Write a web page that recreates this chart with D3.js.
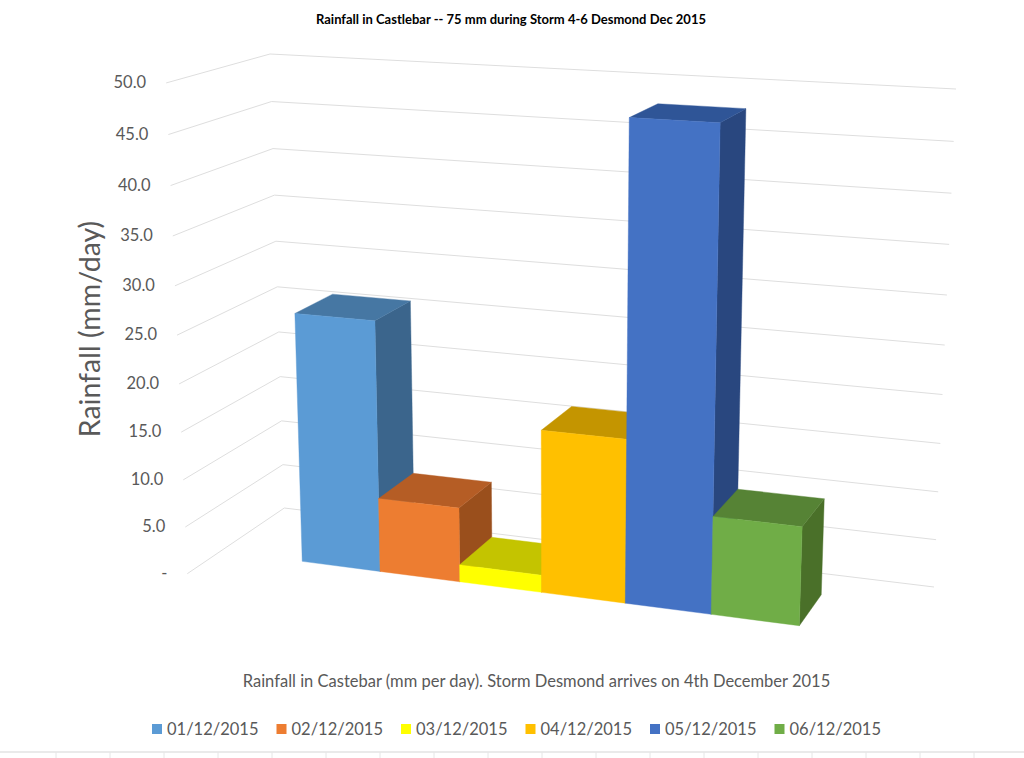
<!DOCTYPE html>
<html><head><meta charset="utf-8">
<script src="https://cdn.jsdelivr.net/npm/d3@7/dist/d3.min.js"></script>
<style>html,body{margin:0;padding:0;background:#fff}svg{display:block}text{font-family:Lato,"Open Sans",sans-serif}</style>
</head><body>
<svg id="c" width="1024" height="758"></svg>
<script>
const title = "Rainfall in Castlebar -- 75 mm during Storm 4-6 Desmond Dec 2015";
const yTitle = "Rainfall (mm/day)";
const xTitle = "Rainfall in Castebar (mm per day). Storm Desmond arrives on 4th December 2015";
const dates = ["01/12/2015","02/12/2015","03/12/2015","04/12/2015","05/12/2015","06/12/2015"];
const rain = [26.3,7.8,1.8,16.8,48.0,10.0];
const ticks = [0,5,10,15,20,25,30,35,40,45,50];
const frontColors = ["#5b9bd5","#ed7d31","#ffff00","#ffc000","#4472c4","#70ad47"];
const topColors = ["#4677a3","#b55d25","#c4c400","#c49500","#2f5597","#568335"];
const sideColors = ["#3b658c","#9a4f1c","#a8a800","#a67f00","#29477f","#4a7029"];

// frame of the 3D box, as seen on the page
const frame = {bb:[284.3,508],bt:[270,54],rb:[934,587],rt:[956,89],fb:[187.3,573.7],ft:[166,83]};
function unitSquare(p00,p10,p11,p01){
  const dx1=p10[0]-p11[0],dx2=p01[0]-p11[0],sx=p00[0]-p10[0]+p11[0]-p01[0];
  const dy1=p10[1]-p11[1],dy2=p01[1]-p11[1],sy=p00[1]-p10[1]+p11[1]-p01[1];
  const den=dx1*dy2-dx2*dy1;
  const g=(sx*dy2-dx2*sy)/den,h=(dx1*sy-sx*dy1)/den;
  return {g,h,ax:p10[0]-p00[0]+g*p10[0],bx:p01[0]-p00[0]+h*p01[0],ay:p10[1]-p00[1]+g*p10[1],by:p01[1]-p00[1]+h*p01[1]};
}
const wall=unitSquare(frame.bb,frame.rb,frame.rt,frame.bt);
const side=unitSquare(frame.bb,frame.fb,frame.ft,frame.bt);
function project(u,v,w){
  const d=1+wall.g*u+wall.h*v+side.g*w;
  return [(frame.bb[0]+wall.ax*u+wall.bx*v+side.ax*w)/d,(frame.bb[1]+wall.ay*u+wall.by*v+side.ay*w)/d];
}
const vScale=d3.scaleLinear().domain([0,50]).range([0,1]);
const uScale=d3.scaleBand().domain(dates).range([0.13,0.86]).padding(0);
const depth={back:0.27,front:0.67};

const svg=d3.select("#c");
const line=d3.line();
// workbook cell lines below the chart
svg.append("line").attr("x1",0).attr("x2",1024).attr("y1",752).attr("y2",752).attr("stroke","#e3e3e3").attr("stroke-width",1.5);
svg.selectAll(".cell").data(d3.range(18)).join("line").attr("class","cell")
  .attr("x1",i=>56+i*54).attr("x2",i=>56+i*54).attr("y1",752).attr("y2",758).attr("stroke","#e6e6e6");

svg.append("text").attr("x",511).attr("y",23.5).attr("text-anchor","middle").attr("font-size",13).attr("font-weight",700).attr("fill","#000").text(title);

svg.selectAll(".grid").data(ticks).join("path").attr("class","grid").attr("fill","none").attr("stroke","#dedede").attr("stroke-width",1)
  .attr("d",t=>line([project(0,vScale(t),1),project(0,vScale(t),0),project(1,vScale(t),0)]));
svg.selectAll(".tick").data(ticks).join("text").attr("class","tick").attr("text-anchor","end")
  .attr("font-size",16.5).attr("fill","#595959")
  .attr("x",t=>project(0,vScale(t),1)[0]-20).attr("y",t=>project(0,vScale(t),1)[1]+5)
  .text(t=>t===0?"-":t.toFixed(1));

const bars=dates.map((d,i)=>({d,i,v:rain[i]}));
const g=svg.selectAll(".bar").data(bars).join("g").attr("class","bar");
function face(sel,cls,colors,pts){
  sel.append("path").attr("class",cls).attr("fill",d=>colors[d.i]).attr("stroke",d=>colors[d.i]).attr("stroke-width",0.4)
    .attr("d",d=>line(pts(d))+"Z");
}
const u0=d=>uScale(d.d),u1=d=>uScale(d.d)+uScale.bandwidth(),h=d=>vScale(d.v);
face(g,"side",sideColors,d=>[project(u1(d),0,depth.front),project(u1(d),0,depth.back),project(u1(d),h(d),depth.back),project(u1(d),h(d),depth.front)]);
face(g,"top",topColors,d=>[project(u0(d),h(d),depth.front),project(u1(d),h(d),depth.front),project(u1(d),h(d),depth.back),project(u0(d),h(d),depth.back)]);
face(g,"front",frontColors,d=>[project(u0(d),0,depth.front),project(u1(d),0,depth.front),project(u1(d),h(d),depth.front),project(u0(d),h(d),depth.front)]);

svg.append("text").attr("transform","translate(100,329) rotate(-90)").attr("text-anchor","middle").attr("font-size",28.5).attr("fill","#595959").text(yTitle);
svg.append("text").attr("x",536.5).attr("y",687).attr("text-anchor","middle").attr("font-size",16.5).attr("fill","#595959").text(xTitle);

const legend=svg.selectAll(".leg").data(bars).join("g").attr("class","leg").attr("transform",d=>`translate(${152+d.i*124.5},724)`);
legend.append("rect").attr("width",10).attr("height",10).attr("fill",d=>frontColors[d.i]);
legend.append("text").attr("x",15).attr("y",11).attr("font-size",16.5).attr("fill","#595959").text(d=>d.d);

// read-out of key positions (off-page check)
window.check=bars.map(d=>[project(u0(d),0,depth.front),project(u0(d),h(d),depth.front),project(u1(d),h(d),depth.back)]);
</script>
</body></html>
